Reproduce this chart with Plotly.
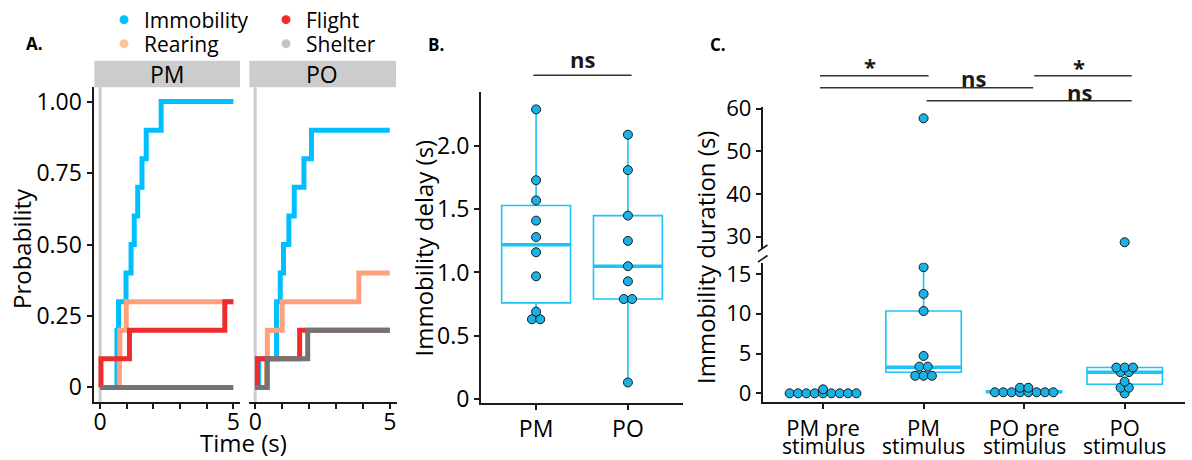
import numpy as np
import plotly.graph_objects as go

W, H = 1192, 460
FONT = "Open Sans"
INK = "#1a1a1a"

# ---------------- data ----------------
groups = ["PM", "PO"]
n_animals = 10
t_end = 5

# immobility onset delays (s) per animal (panel B, and immobility curves in panel A)
delay_pm = [0.63, 0.63, 0.69, 0.97, 1.16, 1.28, 1.41, 1.57, 1.73, 2.29]
delay_po = [0.13, 0.79, 0.79, 0.93, 1.05, 1.25, 1.45, 1.81, 2.09]

# onset latencies (s) of the other behaviours
rearing_pm = [0.72, 0.74, 0.98]
flight_pm = [0.03, 1.10, 4.68]
shelter_pm = []
rearing_po = [0.42, 0.45, 1.00, 3.85]
flight_po = [0.08, 1.65]
shelter_po = [0.45, 1.95]

behaviours = ["Immobility", "Rearing", "Flight", "Shelter"]

# panel C: immobility duration (s)
c_categories = ["PM pre stimulus", "PM stimulus", "PO pre stimulus", "PO stimulus"]
dur_pm_pre = [0, 0, 0, 0, 0, 0, 0, 0, 0, 0.5]
dur_pm_stim = [2.2, 2.2, 2.2, 3.35, 3.35, 4.7, 10.35, 12.5, 15.85, 57.75]
dur_po_pre = [0.13, 0.13, 0.13, 0.13, 0.13, 0.13, 0.13, 0.13, 0.7, 0.7]
dur_po_stim = [0.0, 0.71, 0.71, 1.47, 2.66, 2.66, 3.24, 3.24, 3.24, 28.7]
# box summaries: lower whisker, q1, median, q3, upper whisker
box_pm_pre = [0, 0, 0, 0, 0]
box_pm_stim = [2.2, 2.64, 3.27, 10.35, 15.85]
box_po_pre = [0.1, 0.1, 0.2, 0.3, 0.3]
box_po_stim = [0.0, 1.14, 2.66, 3.24, 3.24]

# pairwise test results
b_tests = [(0, 1, "ns")]
c_tests = [(0, 1, "*"), (0, 2, "ns"), (2, 3, "*"), (1, 3, "ns")]

# ---------------- style ----------------
line_colors = ["#00BFFF", "#FFA07A", "#EE2C2C", "#737373"]
key_colors = ["#00BFFF", "#FFC39B", "#EE2C2C", "#C4C4C4"]
BOX_LINE = "#1EC3F7"
DOT = "#19B2E6"
BREAK_AT = 20  # values above this go on the upper (broken) axis in panel C


def xdom(a, b):
    return [a / W, b / W]


def ydom(top, bottom):
    return [1 - bottom / H, 1 - top / H]


def py(v):
    return 1 - v / H


def pxx(v):
    return v / W


def cumulative_curve(times):
    t = sorted(times)
    xs = [0] + t + [t_end]
    ys = [0] + [(k + 1) / n_animals for k in range(len(t))] + [len(t) / n_animals]
    return xs, ys


def swarm_offsets(values, step):
    vals = np.round(np.asarray(values, float), 3)
    offs = np.zeros(len(vals))
    for v in np.unique(vals):
        idx = np.where(vals == v)[0]
        offs[idx] = (np.arange(len(idx)) - (len(idx) - 1) / 2) * step
    return offs


fig = go.Figure()

# ---------------- panel A: cumulative probability curves ----------------
panel_a = [
    ("x", "y", [delay_pm, rearing_pm, flight_pm, shelter_pm]),
    ("x2", "y2", [delay_po, rearing_po, flight_po, shelter_po]),
]
for xa, ya, series in panel_a:
    for name, col, times in zip(behaviours, line_colors, series):
        xs, ys = cumulative_curve(times)
        fig.add_trace(go.Scatter(
            x=xs, y=ys, mode="lines", name=name, legendgroup=name,
            line=dict(color=col, width=5, shape="hv"),
            xaxis=xa, yaxis=ya, showlegend=False, hoverinfo="skip"))

# legend keys (two rows)
legend_rows = {"Immobility": "legend", "Flight": "legend", "Rearing": "legend2", "Shelter": "legend2"}
for name in ["Immobility", "Flight", "Rearing", "Shelter"]:
    col = key_colors[behaviours.index(name)]
    fig.add_trace(go.Scatter(
        x=[None], y=[None], mode="markers", name=name, legendgroup=name,
        marker=dict(size=9, color=col), legend=legend_rows[name],
        showlegend=True, xaxis="x", yaxis="y"))


def add_box(pos, stats, xa, ya):
    lo, q1, med, q3, hi = stats
    fig.add_trace(go.Box(
        x=[pos], q1=[q1], median=[med], q3=[q3], lowerfence=[lo], upperfence=[hi],
        orientation="v", width=0.75, whiskerwidth=0, boxpoints=False,
        line=dict(color=BOX_LINE, width=1.6), fillcolor="rgba(0,0,0,0)",
        xaxis=xa, yaxis=ya, showlegend=False, hoverinfo="skip"))
    fig.add_trace(go.Scatter(
        x=[pos - 0.375, pos + 0.375], y=[med, med], mode="lines",
        line=dict(color=BOX_LINE, width=3.5),
        xaxis=xa, yaxis=ya, showlegend=False, hoverinfo="skip"))


def add_dots(pos, values, step, xa, ya, xa_hi=None, ya_hi=None):
    v = np.asarray(values, float)
    xs = pos + swarm_offsets(v, step)
    marker = dict(size=9, color=DOT, line=dict(color=INK, width=1))
    low = v <= BREAK_AT if xa_hi else np.ones(len(v), bool)
    fig.add_trace(go.Scatter(x=xs[low], y=v[low], mode="markers", marker=marker,
                             xaxis=xa, yaxis=ya, showlegend=False, hoverinfo="skip"))
    if xa_hi is not None and (~low).any():
        fig.add_trace(go.Scatter(x=xs[~low], y=v[~low], mode="markers", marker=marker,
                                 xaxis=xa_hi, yaxis=ya_hi, showlegend=False, hoverinfo="skip"))


# ---------------- panel B: immobility delay ----------------
for i, vals in enumerate([delay_pm, delay_po]):
    v = np.asarray(vals, float)
    q1, med, q3 = np.percentile(v, [25, 50, 75])
    iqr = q3 - q1
    lo = v[v >= q1 - 1.5 * iqr].min()
    hi = v[v <= q3 + 1.5 * iqr].max()
    add_box(i, [lo, q1, med, q3, hi], "x3", "y3")
for i, vals in enumerate([delay_pm, delay_po]):
    add_dots(i, vals, 0.09, "x3", "y3")

# ---------------- panel C: immobility duration ----------------
c_values = [dur_pm_pre, dur_pm_stim, dur_po_pre, dur_po_stim]
c_boxes = [box_pm_pre, box_pm_stim, box_po_pre, box_po_stim]
for i, stats in enumerate(c_boxes):
    add_box(i, stats, "x4", "y4")
for i, vals in enumerate(c_values):
    add_dots(i, vals, 0.083, "x4", "y4", "x5", "y5")

# ---------------- axes ----------------
tickfont = dict(family=FONT, size=23, color="black")
base = dict(showline=True, linecolor=INK, linewidth=2, ticks="outside", ticklen=5,
            tickwidth=1.5, tickcolor=INK, showgrid=False, zeroline=False,
            tickfont=tickfont, fixedrange=True, automargin=False)

a_y = ydom(87.3, 401.7)
fig.update_layout(
    xaxis=dict(base, domain=xdom(93.5, 240), range=[-0.25, 5.25], anchor="y",
               tickvals=[0, 1, 2, 3, 4, 5], ticktext=["0", "", "", "", "", "5"],
               ticklabelstandoff=-6),
    yaxis=dict(base, domain=a_y, range=[-0.05, 1.05], anchor="x",
               tickvals=[0, 0.25, 0.5, 0.75, 1], ticktext=["0", "0.25", "0.50", "0.75", "1.00"]),
    xaxis2=dict(base, domain=xdom(248.5, 396.5), range=[-0.25, 5.25], anchor="y2",
                tickvals=[0, 1, 2, 3, 4, 5], ticktext=["0", "", "", "", "", "5"],
                ticklabelstandoff=-6),
    yaxis2=dict(domain=a_y, range=[-0.05, 1.05], anchor="x2", showline=False,
                showticklabels=False, ticks="", showgrid=False, zeroline=False,
                fixedrange=True),
    xaxis3=dict(base, domain=xdom(481, 683), range=[-0.6, 1.6], anchor="y3",
                tickvals=[0, 1], ticktext=groups),
    yaxis3=dict(base, domain=ydom(91.7, 402.7), range=[-0.03, 2.43], anchor="x3",
                tickvals=[0, 0.5, 1, 1.5, 2], ticktext=["0", "0.5", "1.0", "1.5", "2.0"]),
    xaxis4=dict(base, domain=xdom(762.7, 1185), range=[-0.6, 3.6], anchor="y4",
                tickvals=[0, 1, 2, 3], ticktext=[c.rsplit(" ", 1)[0] for c in c_categories],
                tickfont=dict(tickfont, size=22)),
    yaxis4=dict(base, domain=ydom(262.7, 402.3), range=[-1.13, 16.42], anchor="x4",
                tickvals=[0, 5, 10, 15], tickfont=dict(tickfont, size=22)),
    xaxis5=dict(domain=xdom(762.7, 1185), range=[-0.6, 3.6], anchor="y5", visible=False,
                fixedrange=True),
    yaxis5=dict(base, domain=ydom(107.3, 249), range=[27.12, 60.33], anchor="x5",
                tickvals=[30, 40, 50, 60], tickfont=dict(tickfont, size=22)),
)

# ---------------- shapes ----------------
shapes = []
# facet strips
for a, b in [(94.3, 240), (249.3, 396)]:
    shapes.append(dict(type="rect", xref="paper", yref="paper",
                       x0=pxx(a), x1=pxx(b), y0=py(87.3), y1=py(60.7),
                       fillcolor="#CCCCCC", line=dict(width=0), layer="below"))
# stimulus onset
for xa in ["x", "x2"]:
    shapes.append(dict(type="line", xref=xa, yref=f"{'y' if xa == 'x' else 'y2'} domain",
                       x0=0, x1=0, y0=0, y1=1, line=dict(color="#CCCCCC", width=3),
                       layer="below"))
# axis break marks
for y0, y1 in [(251.5, 245), (262, 255.5)]:
    shapes.append(dict(type="line", xref="paper", yref="paper",
                       x0=pxx(758), x1=pxx(767.5), y0=py(y0), y1=py(y1),
                       line=dict(color=INK, width=1.6)))

annotations = []

# significance brackets: (x start, x end, line y px, label x, label y px)
b_geom = [(-0.03, 1.04, 75.3, 0.5, 59.5)]
c_geom = [(-0.03, 1.05, 75.7, 0.47, 65.5),
          (-0.03, 2.09, 87.7, 1.5, 78.3),
          (2.10, 3.07, 75.7, 2.55, 67.0),
          (1.03, 3.07, 100.7, 2.55, 91.8)]
for tests, geom, xa in [(b_tests, b_geom, "x3"), (c_tests, c_geom, "x4")]:
    for (i, j, lab), (xs, xe, ly, lx, ty) in zip(tests, geom):
        shapes.append(dict(type="line", xref=xa, yref="paper", x0=xs, x1=xe,
                           y0=py(ly), y1=py(ly), line=dict(color="#333333", width=1.6)))
        annotations.append(dict(text=f"<b>{lab}</b>", xref=xa, yref="paper", x=lx, y=py(ty),
                                showarrow=False, xanchor="center", yanchor="middle",
                                font=dict(family=FONT, size=22, color=INK)))

# panel letters
for lab, x, y in [("A.", 34.7, 43.5), ("B.", 435.5, 45), ("C.", 717.5, 44)]:
    annotations.append(dict(text=f"<b>{lab}</b>", xref="paper", yref="paper", x=pxx(x), y=py(y),
                            showarrow=False, xanchor="center", yanchor="middle",
                            font=dict(family=FONT, size=17, color="black")))
# strip labels
for lab, x in zip(groups, [167, 322]):
    annotations.append(dict(text=lab, xref="paper", yref="paper", x=pxx(x), y=py(74),
                            showarrow=False, xanchor="center", yanchor="middle",
                            font=dict(family=FONT, size=23, color="black")))
# axis titles
title_font = dict(family=FONT, size=24, color="black")
annotations += [
    dict(text="Probability", xref="paper", yref="paper", x=pxx(21), y=py(249),
         textangle=-90, showarrow=False, xanchor="center", yanchor="middle", font=title_font),
    dict(text="Time (s)", xref="paper", yref="paper", x=pxx(243), y=py(442),
         showarrow=False, xanchor="center", yanchor="middle", font=title_font),
    dict(text="Immobility delay (s)", xref="paper", yref="paper", x=pxx(423), y=py(247.5),
         textangle=-90, showarrow=False, xanchor="center", yanchor="middle", font=title_font),
    dict(text="Immobility duration (s)", xref="paper", yref="paper", x=pxx(705), y=py(258),
         textangle=-90, showarrow=False, xanchor="center", yanchor="middle", font=title_font),
]
# second line of the panel C category labels
for i, c in enumerate(c_categories):
    annotations.append(dict(text=c.rsplit(" ", 1)[1], xref="x4", yref="paper", x=i, y=py(446),
                            showarrow=False, xanchor="center", yanchor="middle",
                            font=dict(family=FONT, size=21, color="black")))

legend_style = dict(orientation="h", xanchor="left", yanchor="middle", bgcolor="rgba(0,0,0,0)",
                    font=dict(family=FONT, size=21, color="black"), itemwidth=30,
                    entrywidth=117, entrywidthmode="pixels", tracegroupgap=0,
                    itemclick=False, itemdoubleclick=False)

fig.update_layout(
    width=W, height=H, margin=dict(l=0, r=0, t=0, b=0, autoexpand=False),
    paper_bgcolor="white", plot_bgcolor="white",
    font=dict(family=FONT, color="black"),
    showlegend=True,
    legend=dict(legend_style, x=pxx(104), y=py(20)),
    legend2=dict(legend_style, x=pxx(104), y=py(44)),
    shapes=shapes, annotations=annotations,
)

fig.write_html("out.html", config={"displayModeBar": False})
